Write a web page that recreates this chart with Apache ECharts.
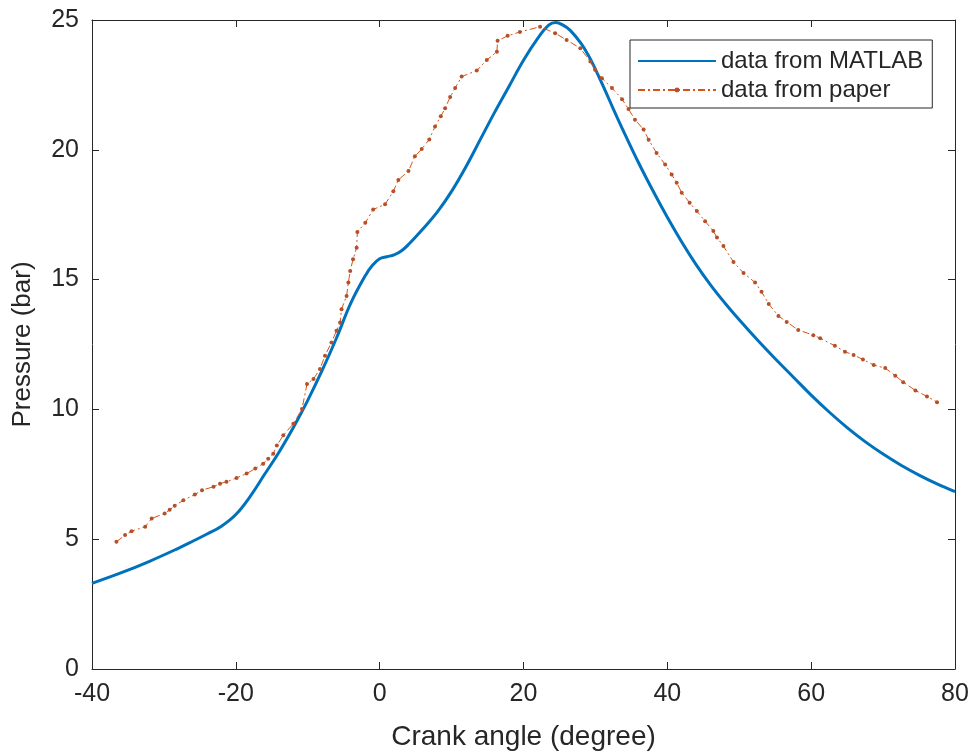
<!DOCTYPE html>
<html>
<head>
<meta charset="utf-8">
<script src="https://cdn.jsdelivr.net/npm/echarts@6/dist/echarts.min.js"></script>
<style>html,body{margin:0;padding:0;background:#fff;}#c{width:976px;height:756px;}</style>
</head>
<body>
<div id="c"></div>
<script>
// MATLAB simulation curve
const matlabX = [-40,-36,-32,-28,-26,-24,-22,-20,-18,-16,-14,-12,-10,-8,-6,-4,-2,-1,0,1,2,3,4,6,8,10,12,14,16,18,20,22,23.5,24.5,25.5,26.5,28,29,30,31,32,33,34,36,38,40,42,44,46,48,50,52.5,55,57.5,60,62.5,65,67.5,70,72.5,75,77.5,80];
const matlabY = [3.3,3.7,4.15,4.65,4.92,5.2,5.5,5.95,6.65,7.5,8.35,9.3,10.35,11.5,12.75,14.1,15.15,15.55,15.8,15.88,15.95,16.1,16.35,16.95,17.6,18.4,19.35,20.4,21.45,22.45,23.45,24.3,24.8,24.9,24.8,24.6,24.1,23.65,23.1,22.5,21.88,21.26,20.66,19.5,18.42,17.4,16.45,15.58,14.8,14.1,13.45,12.68,11.95,11.25,10.55,9.9,9.3,8.76,8.28,7.85,7.47,7.13,6.83];
const paperX = [-36.6,-35.4,-34.5,-32.6,-31.7,-29.9,-29.2,-28.5,-27.3,-25.7,-24.7,-23.1,-22.2,-21.3,-19.9,-18.5,-17.3,-16.2,-15.5,-14.8,-14.3,-13.4,-12.0,-10.8,-10.1,-9.2,-8.3,-7.6,-6.7,-6.0,-5.5,-5.3,-4.6,-4.35,-4.1,-3.7,-3.2,-3.1,-2.0,-0.9,0.75,1.9,2.6,4.0,4.9,5.85,6.9,7.7,8.5,9.1,9.8,10.5,11.4,13.5,14.9,16.3,16.4,17.8,19.5,22.3,24.4,26.0,27.9,29.3,29.95,30.9,32.3,33.7,34.6,35.5,36.7,37.4,38.5,39.7,40.6,41.3,42.0,43.1,44.1,45.25,46.4,46.9,47.8,49.2,50.6,52.2,53.1,54.1,55.45,56.6,58.2,60.3,61.25,63.3,64.7,65.9,67.2,68.7,70.3,71.7,72.8,74.5,76.1,77.5];
const paperY = [4.90,5.16,5.31,5.48,5.80,5.99,6.13,6.29,6.50,6.72,6.89,7.02,7.14,7.21,7.36,7.53,7.72,7.91,8.10,8.29,8.61,9.00,9.45,10.02,10.98,11.17,11.56,12.07,12.58,13.03,13.35,13.86,14.37,14.89,15.33,15.78,16.23,16.83,17.19,17.70,17.90,18.40,18.84,19.18,19.75,20.03,20.40,20.90,21.29,21.60,22.03,22.38,22.82,23.05,23.46,23.78,24.20,24.39,24.54,24.74,24.49,24.23,23.91,23.40,23.08,22.76,22.38,21.95,21.57,21.16,20.78,20.39,19.88,19.43,19.05,18.73,18.35,17.96,17.64,17.25,16.87,16.62,16.29,15.68,15.25,14.89,14.53,14.06,13.60,13.37,13.06,12.86,12.74,12.45,12.22,12.10,11.92,11.71,11.59,11.30,11.05,10.73,10.50,10.28];
const xTicks = {min: -40, max: 80, interval: 20};
const yTicks = {min: 0, max: 25, interval: 5};

const FONT = '"Liberation Sans", Arial, sans-serif';
const AX = '#262626';
const chart = echarts.init(document.getElementById('c'), null, {renderer: 'canvas'});
const zip = (a, b) => a.map((v, i) => [v, b[i]]);
const baseAxis = {
  axisLine: {show: true, onZero: false, lineStyle: {color: AX, width: 1}},
  axisTick: {show: true, inside: true, length: 7, lineStyle: {color: AX}},
  splitLine: {show: false},
  axisLabel: {color: AX, fontSize: 25, fontFamily: FONT}
};
chart.setOption({
  animation: false,
  backgroundColor: '#fff',
  grid: {left: 92, right: 21, top: 20, bottom: 85, containLabel: false},
  xAxis: [
    Object.assign({}, baseAxis, {type: 'value', position: 'bottom', min: xTicks.min, max: xTicks.max, interval: xTicks.interval,
      name: 'Crank angle (degree)', nameLocation: 'middle', nameGap: 54,
      nameTextStyle: {color: AX, fontSize: 28, fontFamily: FONT},
      axisLabel: Object.assign({}, baseAxis.axisLabel, {margin: 13})}),
    Object.assign({}, baseAxis, {type: 'value', position: 'top', min: xTicks.min, max: xTicks.max, interval: xTicks.interval,
      axisLabel: {show: false}})
  ],
  yAxis: [
    Object.assign({}, baseAxis, {type: 'value', position: 'left', min: yTicks.min, max: yTicks.max, interval: yTicks.interval,
      name: 'Pressure (bar)', nameLocation: 'middle', nameGap: 56,
      nameTextStyle: {color: AX, fontSize: 26, fontFamily: FONT},
      axisLabel: Object.assign({}, baseAxis.axisLabel, {margin: 13})}),
    Object.assign({}, baseAxis, {type: 'value', position: 'right', min: yTicks.min, max: yTicks.max, interval: yTicks.interval,
      axisLabel: {show: false}})
  ],
  legend: {
    orient: 'vertical', left: 630, top: 40,
    backgroundColor: '#fff', borderColor: AX, borderWidth: 1, borderRadius: 0,
    padding: [9, 9, 6, 7], itemGap: 5, itemWidth: 78, itemHeight: 6,
    textStyle: {color: AX, fontSize: 24, fontFamily: FONT},
    data: [
      {name: 'data from MATLAB', itemStyle: {opacity: 0}},
      {name: 'data from paper'}
    ]
  },
  series: [
    {
      name: 'data from MATLAB', type: 'line', xAxisIndex: 0, yAxisIndex: 0,
      data: zip(matlabX, matlabY), smooth: 0.4, showSymbol: false, symbol: 'none',
      lineStyle: {color: '#0072BD', width: 3}, itemStyle: {color: '#0072BD'}, z: 3
    },
    {
      name: 'data from paper', type: 'line', xAxisIndex: 0, yAxisIndex: 0,
      data: zip(paperX, paperY), smooth: false, symbol: 'circle', symbolSize: 4,
      lineStyle: {color: '#D95319', width: 1, type: [7, 3, 2, 3]},
      itemStyle: {color: '#B4502A'}, z: 4
    }
  ]
});
</script>
</body>
</html>
